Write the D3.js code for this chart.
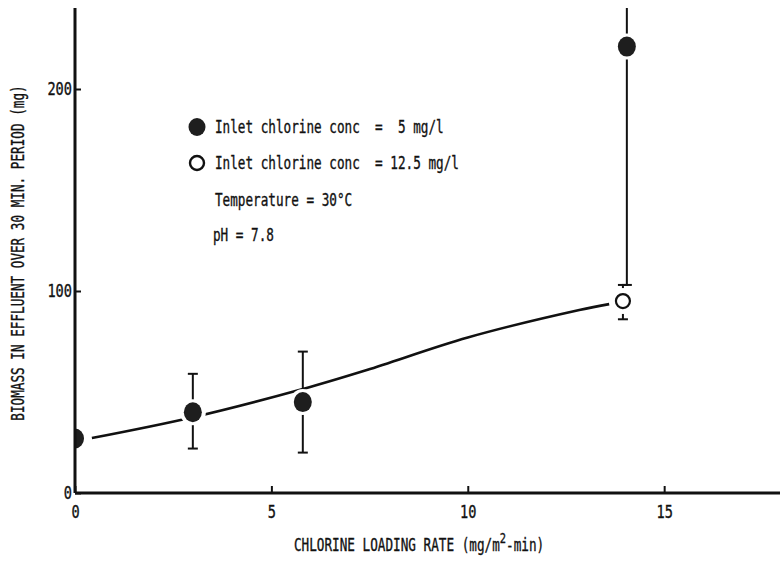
<!DOCTYPE html>
<html>
<head>
<meta charset="utf-8">
<script src="https://cdn.jsdelivr.net/npm/d3@7/dist/d3.min.js"></script>
<style>
  html, body { margin: 0; padding: 0; background: #fff; }
  svg { display: block; }
  text { font-family: "DejaVu Sans Mono", "Liberation Mono", monospace; fill: #111; stroke: #111; stroke-width: 0.35; white-space: pre; }
</style>
</head>
<body>
<svg id="chart" width="780" height="563"></svg>
<script>
// Chlorine loading rate (mg/m^2-min) vs biomass in effluent (mg)
const lowConcX = [0, 3.0, 5.8, 14.05];
const lowConcY = [27, 40, 45, 221];
const lowConcErrLow = [null, 22, 20, 103];
const lowConcErrHigh = [null, 59, 70, 250];

const highConcX = [13.95];
const highConcY = [95];
const highConcErrLow = [86];
const highConcErrHigh = [103];

// Smoothed trend through the data
const trendX = [0.43, 3.0, 5.8, 7.43, 10, 12.84, 13.6];
const trendY = [27.2, 37.5, 51.5, 60.9, 77, 90.6, 93.5];

const xTicks = [0, 5, 10, 15];
const yTicks = [0, 100, 200];

const legendLines = [
  "Inlet chlorine conc  =  5 mg/l",
  "Inlet chlorine conc  = 12.5 mg/l",
  "Temperature = 30\u00B0C",
  "pH = 7.8"
];

const svg = d3.select("#chart");
const plotLeft = 75, plotRight = 782, plotBottom = 493, plotTop = 8;
const fontSize = 17;
const squeeze = 0.745;        // horizontal compression of the typewriter face

const x = d3.scaleLinear().domain([0, 18]).range([plotLeft, plotRight]);
const y = d3.scaleLinear().domain([0, 200]).range([plotBottom, 89]);
const yTop = y.invert(plotTop);

svg.append("defs").append("clipPath").attr("id", "plot")
  .append("rect").attr("x", plotLeft).attr("y", plotTop)
  .attr("width", plotRight - plotLeft).attr("height", plotBottom - plotTop);

const plot = svg.append("g").attr("clip-path", "url(#plot)");

// trend curve
const line = d3.line().x(d => x(d[0])).y(d => y(d[1])).curve(d3.curveCatmullRom.alpha(0.5));
plot.append("path")
  .datum(d3.zip(trendX, trendY))
  .attr("d", line)
  .attr("fill", "none").attr("stroke", "#111").attr("stroke-width", 2.6);

// error bars
function errorBars(xs, lo, hi) {
  const data = d3.range(xs.length).filter(i => lo[i] != null)
    .map(i => ({ x: xs[i], lo: lo[i], hi: hi[i] }));
  const g = plot.append("g").attr("stroke", "#111").attr("fill", "none");
  g.selectAll("line.v").data(data).join("line").attr("class", "v")
    .attr("x1", d => x(d.x)).attr("x2", d => x(d.x))
    .attr("y1", d => y(d.lo)).attr("y2", d => y(Math.min(d.hi, yTop + 10)))
    .attr("stroke-width", 2);
  g.selectAll("line.lo").data(data).join("line").attr("class", "lo")
    .attr("x1", d => x(d.x) - 5).attr("x2", d => x(d.x) + 5)
    .attr("y1", d => y(d.lo)).attr("y2", d => y(d.lo)).attr("stroke-width", 2);
  g.selectAll("line.hi").data(data.filter(d => d.hi < yTop)).join("line").attr("class", "hi")
    .attr("x1", d => x(d.x) - 5).attr("x2", d => x(d.x) + 5)
    .attr("y1", d => y(d.hi)).attr("y2", d => y(d.hi)).attr("stroke-width", 2);
}
errorBars(lowConcX, lowConcErrLow, lowConcErrHigh);
errorBars(highConcX, highConcErrLow, highConcErrHigh);

// white knockouts leave a gap around each marker
const allPts = d3.zip(lowConcX, lowConcY).concat(d3.zip(highConcX, highConcY));
plot.selectAll("circle.knock").data(allPts).join("circle").attr("class", "knock")
  .attr("cx", d => x(d[0])).attr("cy", d => y(d[1])).attr("r", 13).attr("fill", "#fff");

plot.selectAll("ellipse.low").data(d3.zip(lowConcX, lowConcY)).join("ellipse").attr("class", "low")
  .attr("cx", d => x(d[0])).attr("cy", d => y(d[1]))
  .attr("rx", 9).attr("ry", 10).attr("fill", "#1e1e1e");

plot.selectAll("circle.high").data(d3.zip(highConcX, highConcY)).join("circle").attr("class", "high")
  .attr("cx", d => x(d[0])).attr("cy", d => y(d[1]))
  .attr("r", 7).attr("fill", "#fff").attr("stroke", "#111").attr("stroke-width", 2.2);

// axes
const fmt = d3.format("d");
const xAxis = d3.axisBottom(x).tickValues(xTicks).tickSize(-7).tickPadding(13).tickFormat(fmt);
const yAxis = d3.axisLeft(y).tickValues(yTicks).tickSize(-6).tickPadding(3).tickFormat(fmt);

function styleAxis(g) {
  g.attr("font-family", null).attr("font-size", null);
  g.selectAll(".tick line").attr("stroke", "#111").attr("stroke-width", 2);
  g.selectAll(".tick text")
    .attr("font-size", fontSize)
    .attr("textLength", d => fmt(d).length * 8.2)
    .attr("lengthAdjust", "spacingAndGlyphs");
}

const gx = svg.append("g").attr("transform", `translate(0,${plotBottom})`).call(xAxis);
gx.select(".domain").attr("d", `M${plotLeft},0H${plotRight}`).attr("stroke", "#111").attr("stroke-width", 3);
styleAxis(gx);

const gy = svg.append("g").attr("transform", `translate(${plotLeft},0)`).call(yAxis);
gy.select(".domain").attr("d", `M0,${plotTop}V${plotBottom}`).attr("stroke", "#111").attr("stroke-width", 3);
styleAxis(gy);

// axis titles
svg.append("g").attr("transform", `translate(24,253) rotate(-90) scale(${squeeze},1)`)
  .append("text")
  .attr("text-anchor", "middle").attr("font-size", fontSize)
  .text("BIOMASS IN EFFLUENT OVER 30 MIN. PERIOD (mg)");

const xt = svg.append("g").attr("transform", `translate(294,551) scale(${squeeze},1)`)
  .append("text").attr("font-size", fontSize);
xt.append("tspan").text("CHLORINE LOADING RATE (mg/m");
xt.append("tspan").attr("dy", -8).attr("font-size", 14).text("2");
xt.append("tspan").attr("dy", 8).text("-min)");

// legend
const legendX = 197, textX = 215, rowY = [127, 163, 200, 235];
svg.append("ellipse").attr("cx", legendX).attr("cy", rowY[0]).attr("rx", 8.5).attr("ry", 9).attr("fill", "#1e1e1e");
svg.append("circle").attr("cx", legendX).attr("cy", rowY[1]).attr("r", 7).attr("fill", "#fff").attr("stroke", "#111").attr("stroke-width", 2.4);
svg.selectAll("g.legend").data(legendLines).join("g")
  .attr("class", "legend")
  .attr("transform", (d, i) => `translate(${i === 3 ? textX - 2 : textX},${rowY[i] + 6}) scale(${squeeze},1)`)
  .append("text")
  .attr("font-size", fontSize)
  .text(d => d);
</script>
</body>
</html>
